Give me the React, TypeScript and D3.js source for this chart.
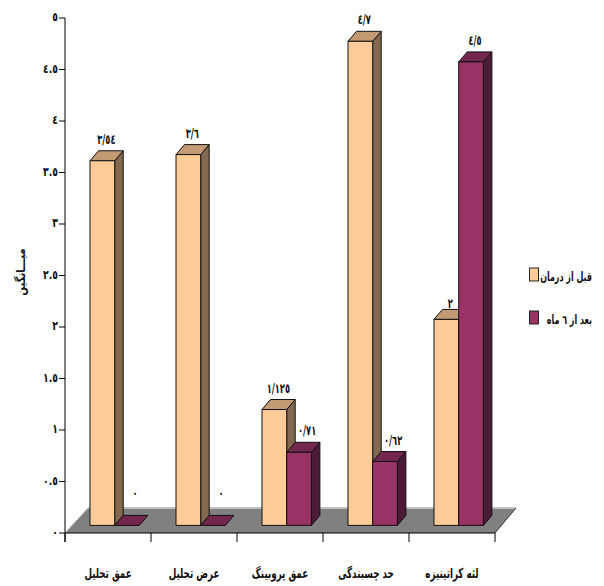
import React from "react";
import * as d3 from "d3";

const categories = ["عمق تحلیل", "عرض تحلیل", "عمق پروبینگ", "حد چسبندگی", "لثه کراتینیزه"];
const before = [3.54, 3.6, 1.125, 4.7, 2];
const after = [0, 0, 0.71, 0.62, 4.5];
const beforeLabels = ["٣/٥٤", "٣/٦", "١/١٢٥", "٤/٧", "٢"];
const afterLabels = ["٠", "٠", "٠/٧١", "٠/٦٢", "٤/٥"];
const yTicks = [0, 0.5, 1, 1.5, 2, 2.5, 3, 3.5, 4, 4.5, 5];
const yTickLabels = ["٠", "٠.٥", "١", "١.٥", "٢", "٢.٥", "٣", "٣.٥", "٤", "٤.٥", "٥"];
const seriesNames = ["قبل از درمان", "بعد از ٦ ماه"];
const yTitle = "میـــانگین";

const W = 604, H = 586;
const FONT = "'DejaVu Sans', 'Noto Sans', sans-serif";
const x0 = 65, x1 = 495, yTop = 18, yBase = 533;
const floorDx = 21, floorDy = 25;   // depth of the floor
const barDx = 8.5, barDy = 10;      // depth of a bar
const baseLift = 7.6;
const barW = 24.7, barInset = 25;

const yScale = d3.scaleLinear().domain([0, 5]).range([yBase, yTop]);
const xScale = d3.scaleBand<number>().domain(d3.range(categories.length)).range([x0, x1]);
const colors = [
  { front: "#FFCC99", top: "#C29B74", side: "#82694F" },
  { front: "#993366", top: "#74274E", side: "#4C1B35" },
];

const poly = (pts: [number, number][]) => pts.map((p) => p.join(",")).join(" ");

// Narrow, tall text: the installed Arabic face is wider than the reference's.
function T({ x, y, size, anchor = "middle", sx = 0.76, sy = 1.2, children }: {
  x: number; y: number; size: number; anchor?: "middle" | "end" | "start"; sx?: number; sy?: number; children: React.ReactNode;
}) {
  return (
    <text transform={`translate(${x},${y}) scale(${sx},${sy})`} textAnchor={anchor} fontSize={size} fill="#111">
      {children}
    </text>
  );
}

function Bar({ x, value, c }: { x: number; value: number; c: (typeof colors)[0] }) {
  const b = yScale(0) - baseLift;
  const t = yScale(value) - baseLift;
  const r = x + barW;
  const stroke = { stroke: "#111", strokeWidth: 1, strokeLinejoin: "round" as const };
  return (
    <g>
      {value > 0 && (
        <polygon points={poly([[r, b], [r + barDx, b - barDy], [r + barDx, t - barDy], [r, t]])} fill={c.side} {...stroke} />
      )}
      <polygon points={poly([[x, t], [r, t], [r + barDx, t - barDy], [x + barDx, t - barDy]])} fill={c.top} {...stroke} />
      {value > 0 && <rect x={x} y={t} width={barW} height={b - t} fill={c.front} {...stroke} />}
    </g>
  );
}

export default function App() {
  return (
    <svg width={W} height={H} style={{ position: "absolute", left: 0, top: 0, background: "#fff" }} fontFamily={FONT} fontWeight="bold">
      {/* floor */}
      <polygon
        points={poly([[x0, yBase], [x1, yBase], [x1 + floorDx, yBase - floorDy], [x0 + floorDx + 2, yBase - floorDy]])}
        fill="#808080"
      />
      <line x1={x0 + floorDx + 2} x2={x1 + floorDx} y1={yBase - floorDy} y2={yBase - floorDy} stroke="#c0c0c0" strokeWidth={2} />
      <line x1={x0} x2={x0 + floorDx + 2} y1={yBase} y2={yBase - floorDy} stroke="#c0c0c0" strokeWidth={1} />
      <line x1={x1} x2={x1 + floorDx} y1={yBase} y2={yBase - floorDy} stroke="#333" strokeWidth={1} />

      {/* axes */}
      <line x1={x0} x2={x0} y1={yTop} y2={yBase + 9} stroke="#000" />
      <line x1={x0} x2={x1} y1={yBase} y2={yBase} stroke="#000" />
      {yTicks.map((t, i) => (
        <g key={t}>
          <line x1={x0 - 6} x2={x0} y1={yScale(t)} y2={yScale(t)} stroke="#000" />
          <T x={x0 - 7} y={yScale(t) + 3} size={11} anchor="end" sx={0.85} sy={1.15}>{yTickLabels[i]}</T>
        </g>
      ))}
      {d3.range(categories.length + 1).map((i) => {
        const x = x0 + i * xScale.bandwidth();
        return <line key={i} x1={x} x2={x} y1={yBase} y2={yBase + 9} stroke="#000" />;
      })}

      {/* bars */}
      {categories.map((_, i) => {
        const x = xScale(i)! + barInset;
        return (
          <g key={i}>
            <Bar x={x} value={before[i]} c={colors[0]} />
            <Bar x={x + barW} value={after[i]} c={colors[1]} />
          </g>
        );
      })}

      {/* value labels */}
      {categories.map((_, i) => {
        const x = xScale(i)! + barInset;
        const topOf = (v: number) => yScale(v) - baseLift - barDy;
        return (
          <g key={i}>
            <T x={x + barW / 2 + 4} y={topOf(before[i]) - (before[i] < after[i] ? 1 : 7)} size={11}>{beforeLabels[i]}</T>
            <T
              x={x + barW * 1.5 + (before[i] > after[i] ? 8 : 4)}
              y={topOf(after[i]) - (after[i] === 0 ? 17 : 7)}
              size={11}
            >
              {afterLabels[i]}
            </T>
          </g>
        );
      })}

      {/* category labels */}
      {categories.map((c, i) => (
        <T key={c} x={xScale(i)! + xScale.bandwidth() / 2} y={578} size={11.5}>{c}</T>
      ))}

      {/* y title */}
      <text transform="translate(25,272) rotate(-90) scale(1,1.25)" textAnchor="middle" fontSize={10} fill="#111">{yTitle}</text>

      {/* legend */}
      {seriesNames.map((s, i) => (
        <g key={s}>
          <rect x={529.5} y={268 + i * 43} width={9} height={13} fill={colors[i].front} stroke="#222" />
          <T x={592} y={281 + i * 43} size={10.5} anchor="end" sx={0.76} sy={1.2}>{s}</T>
        </g>
      ))}
    </svg>
  );
}
